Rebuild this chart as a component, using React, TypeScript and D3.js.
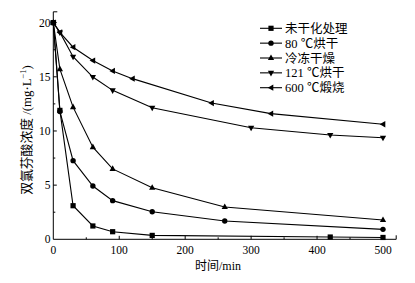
import React from "react";
import * as d3 from "d3";

const times0 = [0, 10, 30, 60, 90, 150, 420, 500];
const untreated = [20, 11.9, 3.1, 1.23, 0.7, 0.36, 0.21, 0.17];
const times1 = [0, 10, 30, 60, 90, 150, 260, 500];
const dried80 = [20, 11.8, 7.26, 4.92, 3.57, 2.55, 1.69, 0.92];
const freezeDried = [20, 15.7, 12.2, 8.5, 6.5, 4.76, 2.98, 1.78];
const times3 = [0, 10, 30, 60, 90, 150, 300, 420, 500];
const dried121 = [20, 19.1, 16.86, 14.98, 13.75, 12.15, 10.3, 9.63, 9.38];
const times4 = [0, 10, 30, 60, 90, 120, 240, 330, 500];
const calcined600 = [20, 19.1, 17.73, 16.5, 15.54, 14.83, 12.58, 11.6, 10.62];

const seriesNames = ["未干化处理", "80 ℃烘干", "冷冻干燥", "121 ℃烘干", "600 ℃煅烧"];
const markerKinds = ["square", "circle", "up", "down", "left"];
const xTicks = [0, 100, 200, 300, 400, 500];
const yTicks = [0, 5, 10, 15, 20];

const series = [
  { t: times0, v: untreated },
  { t: times1, v: dried80 },
  { t: times1, v: freezeDried },
  { t: times3, v: dried121 },
  { t: times4, v: calcined600 },
];

const W = 415;
const H = 283;
const x0 = 53.3;
const pxPerMin = 0.6594;
const x = d3.scaleLinear().domain([0, 520]).range([x0, x0 + 520 * pxPerMin]);
const y = d3.scaleLinear().domain([0, 21]).range([239.3, 239.3 - 21 * 10.833]);

const FONT = "'Liberation Serif', 'Times New Roman', 'Noto Sans CJK SC', serif";

function Marker({ kind, cx, cy }: { kind: string; cx: number; cy: number }) {
  if (kind === "square") return <rect x={cx - 2.6} y={cy - 2.6} width={5.2} height={5.2} fill="#000" />;
  if (kind === "circle") return <circle cx={cx} cy={cy} r={2.7} fill="#000" />;
  const s = 3.3;
  const tri = `M0,${-s} L${s * 0.95},${s * 0.7} L${-s * 0.95},${s * 0.7} Z`;
  const rot = kind === "up" ? 0 : kind === "down" ? 180 : -90;
  return <path d={tri} transform={`translate(${cx},${cy + (kind === "up" ? -0.3 : kind === "down" ? 0.3 : 0)}) rotate(${rot})`} fill="#000" />;
}

export default function App() {
  const line = d3
    .line<[number, number]>()
    .x((d) => x(d[0]))
    .y((d) => y(d[1]));
  const xMinor = d3.range(50, 520, 100);
  const yMinor = d3.range(2.5, 21, 5);
  const legendY0 = 28.3;
  const legendStep = 14.85;
  return (
    <svg width={W} height={H} style={{ position: "absolute", left: 0, top: 0, background: "#fff" }} fontFamily={FONT}>
      <rect width={W} height={H} fill="#fff" />
      {/* axes */}
      <g stroke="#000" strokeWidth={1}>
        <line x1={x(0)} y1={y(0)} x2={x(520)} y2={y(0)} />
        <line x1={x(0)} y1={y(0)} x2={x(0)} y2={y(21)} />
        <line x1={x(520)} y1={y(0)} x2={x(520)} y2={y(0) - 4} />
        <line x1={x(0)} y1={y(21)} x2={x(0) + 4} y2={y(21)} />
        {xTicks.slice(1).map((t) => (
          <line key={"xt" + t} x1={x(t)} x2={x(t)} y1={y(0)} y2={y(0) - 3.5} />
        ))}
        {xMinor.map((t) => (
          <line key={"xm" + t} x1={x(t)} x2={x(t)} y1={y(0)} y2={y(0) - 2} />
        ))}
        {yTicks.slice(1).map((v) => (
          <line key={"yt" + v} x1={x(0)} x2={x(0) + 3.5} y1={y(v)} y2={y(v)} />
        ))}
        {yMinor.map((v) => (
          <line key={"ym" + v} x1={x(0)} x2={x(0) + 2} y1={y(v)} y2={y(v)} />
        ))}
      </g>
      <g fontSize={11.5} fill="#000">
        {xTicks.map((t) => (
          <text key={"xl" + t} x={x(t)} y={254} textAnchor="middle">
            {t}
          </text>
        ))}
        {yTicks.map((v) => (
          <text key={"yl" + v} x={50.5} y={y(v)} dy="0.35em" textAnchor="end">
            {v}
          </text>
        ))}
      </g>
      <text x={218} y={270} textAnchor="middle" fontSize={12} fill="#000">
        时间/min
      </text>
      <text transform={`translate(30.5,${130}) rotate(-90)`} textAnchor="middle" fontSize={12.8} fill="#000">
        双氯芬酸浓度 /(mg·L
        <tspan dy={-4.5} fontSize={8.5}>−1</tspan>
        <tspan dy={4.5}>)</tspan>
      </text>
      {/* series */}
      {series.map((s, i) => {
        const pts: [number, number][] = s.t.map((t, j) => [t, s.v[j]]);
        return (
          <g key={"s" + i}>
            <path d={line(pts) || ""} fill="none" stroke="#000" strokeWidth={1.1} />
            {pts.map((p, j) => (
              <Marker key={j} kind={markerKinds[i]} cx={x(p[0])} cy={y(p[1])} />
            ))}
          </g>
        );
      })}
      {/* legend */}
      {seriesNames.map((name, i) => {
        const ly = legendY0 + i * legendStep;
        return (
          <g key={"lg" + i}>
            <line x1={260} x2={282} y1={ly} y2={ly} stroke="#000" strokeWidth={1.1} />
            <Marker kind={markerKinds[i]} cx={271} cy={ly} />
            <text x={285} y={ly} dy="0.36em" fontSize={12.5} fill="#000">
              {name}
            </text>
          </g>
        );
      })}
    </svg>
  );
}
